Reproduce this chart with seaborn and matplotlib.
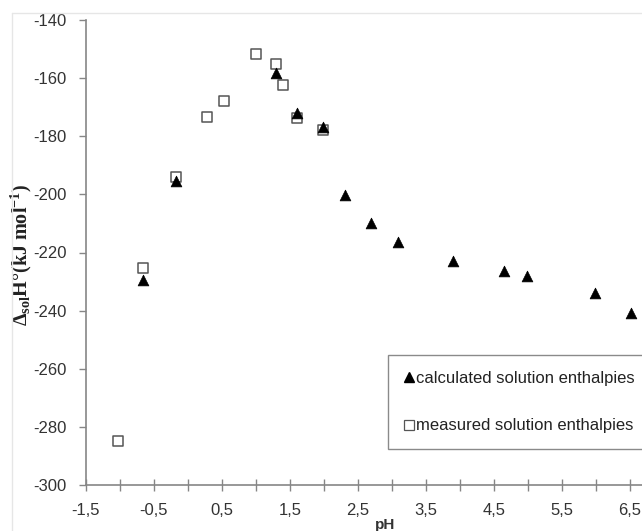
import matplotlib
matplotlib.use("Agg")
import matplotlib.pyplot as plt
from matplotlib.lines import Line2D
import seaborn as sns
import pandas as pd

# Data
calc_ph = [-0.66, -0.17, 1.30, 1.60, 1.99, 2.31, 2.69, 3.09, 3.89, 4.64, 4.99, 5.98, 6.51]
calc_h = [-229.5, -195.3, -158.1, -172.1, -176.9, -200.2, -210.0, -216.5, -222.8, -226.3, -228.1, -234.0, -240.7]
meas_ph = [-1.03, -0.66, -0.17, 0.28, 0.53, 1.00, 1.30, 1.39, 1.60, 1.99]
meas_h = [-285.0, -225.5, -194.1, -173.5, -167.9, -151.7, -155.2, -162.5, -173.8, -177.8]
x_ticklabels = ["-1,5", "-0,5", "0,5", "1,5", "2,5", "3,5", "4,5", "5,5", "6,5"]
y_ticks = [-140, -160, -180, -200, -220, -240, -260, -280, -300]

calc_df = pd.DataFrame({"pH": calc_ph, "H": calc_h})
meas_df = pd.DataFrame({"pH": meas_ph, "H": meas_h})

sns.set_style("white")
plt.rcParams["font.family"] = ["Liberation Sans", "DejaVu Sans"]
plt.rcParams["mathtext.fontset"] = "custom"
plt.rcParams["mathtext.rm"] = "Liberation Serif"
plt.rcParams["mathtext.bf"] = "Liberation Serif:bold"
plt.rcParams["mathtext.it"] = "Liberation Serif:italic"

W, H = 642, 531
fig = plt.figure(figsize=(W / 100, H / 100), dpi=100)
ax = fig.add_axes([86 / W, 46 / H, (W - 86) / W, (485 - 20) / H])

sns.scatterplot(data=meas_df, x="pH", y="H", ax=ax, marker="s", s=55,
                facecolor="white", edgecolor="#555555", linewidth=1.1, zorder=3)
sns.scatterplot(data=calc_df, x="pH", y="H", ax=ax, marker="^", s=60,
                color="black", edgecolor="black", linewidth=0.5, zorder=4)

ax.set_xlim(-1.5, -1.5 + 556 / 68)
ax.set_ylim(-300, -140)

axis_col = "#868686"
for side in ["top", "right"]:
    ax.spines[side].set_visible(False)
for side in ["left", "bottom"]:
    ax.spines[side].set_color(axis_col)
    ax.spines[side].set_linewidth(1.2)

txt_col = "#333333"
xt = [-1.5 + i for i in range(len(x_ticklabels))]
ax.set_xticks(xt)
ax.set_xticklabels(x_ticklabels)
ax.set_xticks([-1.0 + i for i in range(8)], minor=True)
ax.tick_params(axis="x", which="both", direction="inout", length=8, width=1.0,
               color=axis_col, labelsize=12, labelcolor=txt_col, pad=9)
ax.set_yticks(y_ticks)
ax.set_yticklabels([str(v) for v in y_ticks])
ax.tick_params(axis="y", which="major", direction="out", length=5, width=1.0,
               color=axis_col, labelsize=12, labelcolor=txt_col, pad=9)
ax.tick_params(left=True, bottom=True)
ax.tick_params(axis="x", which="minor", bottom=True)

ax.set_xlabel("pH", fontsize=11, fontweight="bold", color=txt_col)
ax.xaxis.set_label_coords((385 - 86) / 556, -0.07)
ax.set_ylabel(r"$\mathbf{\Delta_{sol}H°(kJ\ mol^{-1})}$", fontsize=14.5, color="#222222")
ax.yaxis.set_label_coords((34 - 86) / 556, 0.495)

handles = [
    Line2D([], [], linestyle="none", marker="^", markersize=7, color="black"),
    Line2D([], [], linestyle="none", marker="s", markersize=6.5,
           markerfacecolor="white", markeredgecolor="#555555", markeredgewidth=0.9),
]
leg = ax.legend(handles, ["calculated solution enthalpies", "measured solution enthalpies"],
                loc="upper left", bbox_to_anchor=(388 / W, 1 - 355 / H),
                bbox_transform=fig.transFigure, fontsize=12, frameon=True,
                fancybox=False, edgecolor="#8a8a8a", handlelength=0.6,
                handletextpad=0.1, labelspacing=1.95, borderpad=0.95,
                borderaxespad=0, framealpha=1)
leg.get_frame().set_linewidth(1.0)
for t in leg.get_texts():
    t.set_color("#222222")

# faint chart-area border
fig.add_artist(Line2D([12 / W, 1], [1 - 13 / H, 1 - 13 / H], color="#e6e6e6",
                      linewidth=1, transform=fig.transFigure))
fig.add_artist(Line2D([12 / W, 12 / W], [0, 1 - 13 / H], color="#e6e6e6",
                      linewidth=1, transform=fig.transFigure))

fig.savefig("out.png", dpi=100)
